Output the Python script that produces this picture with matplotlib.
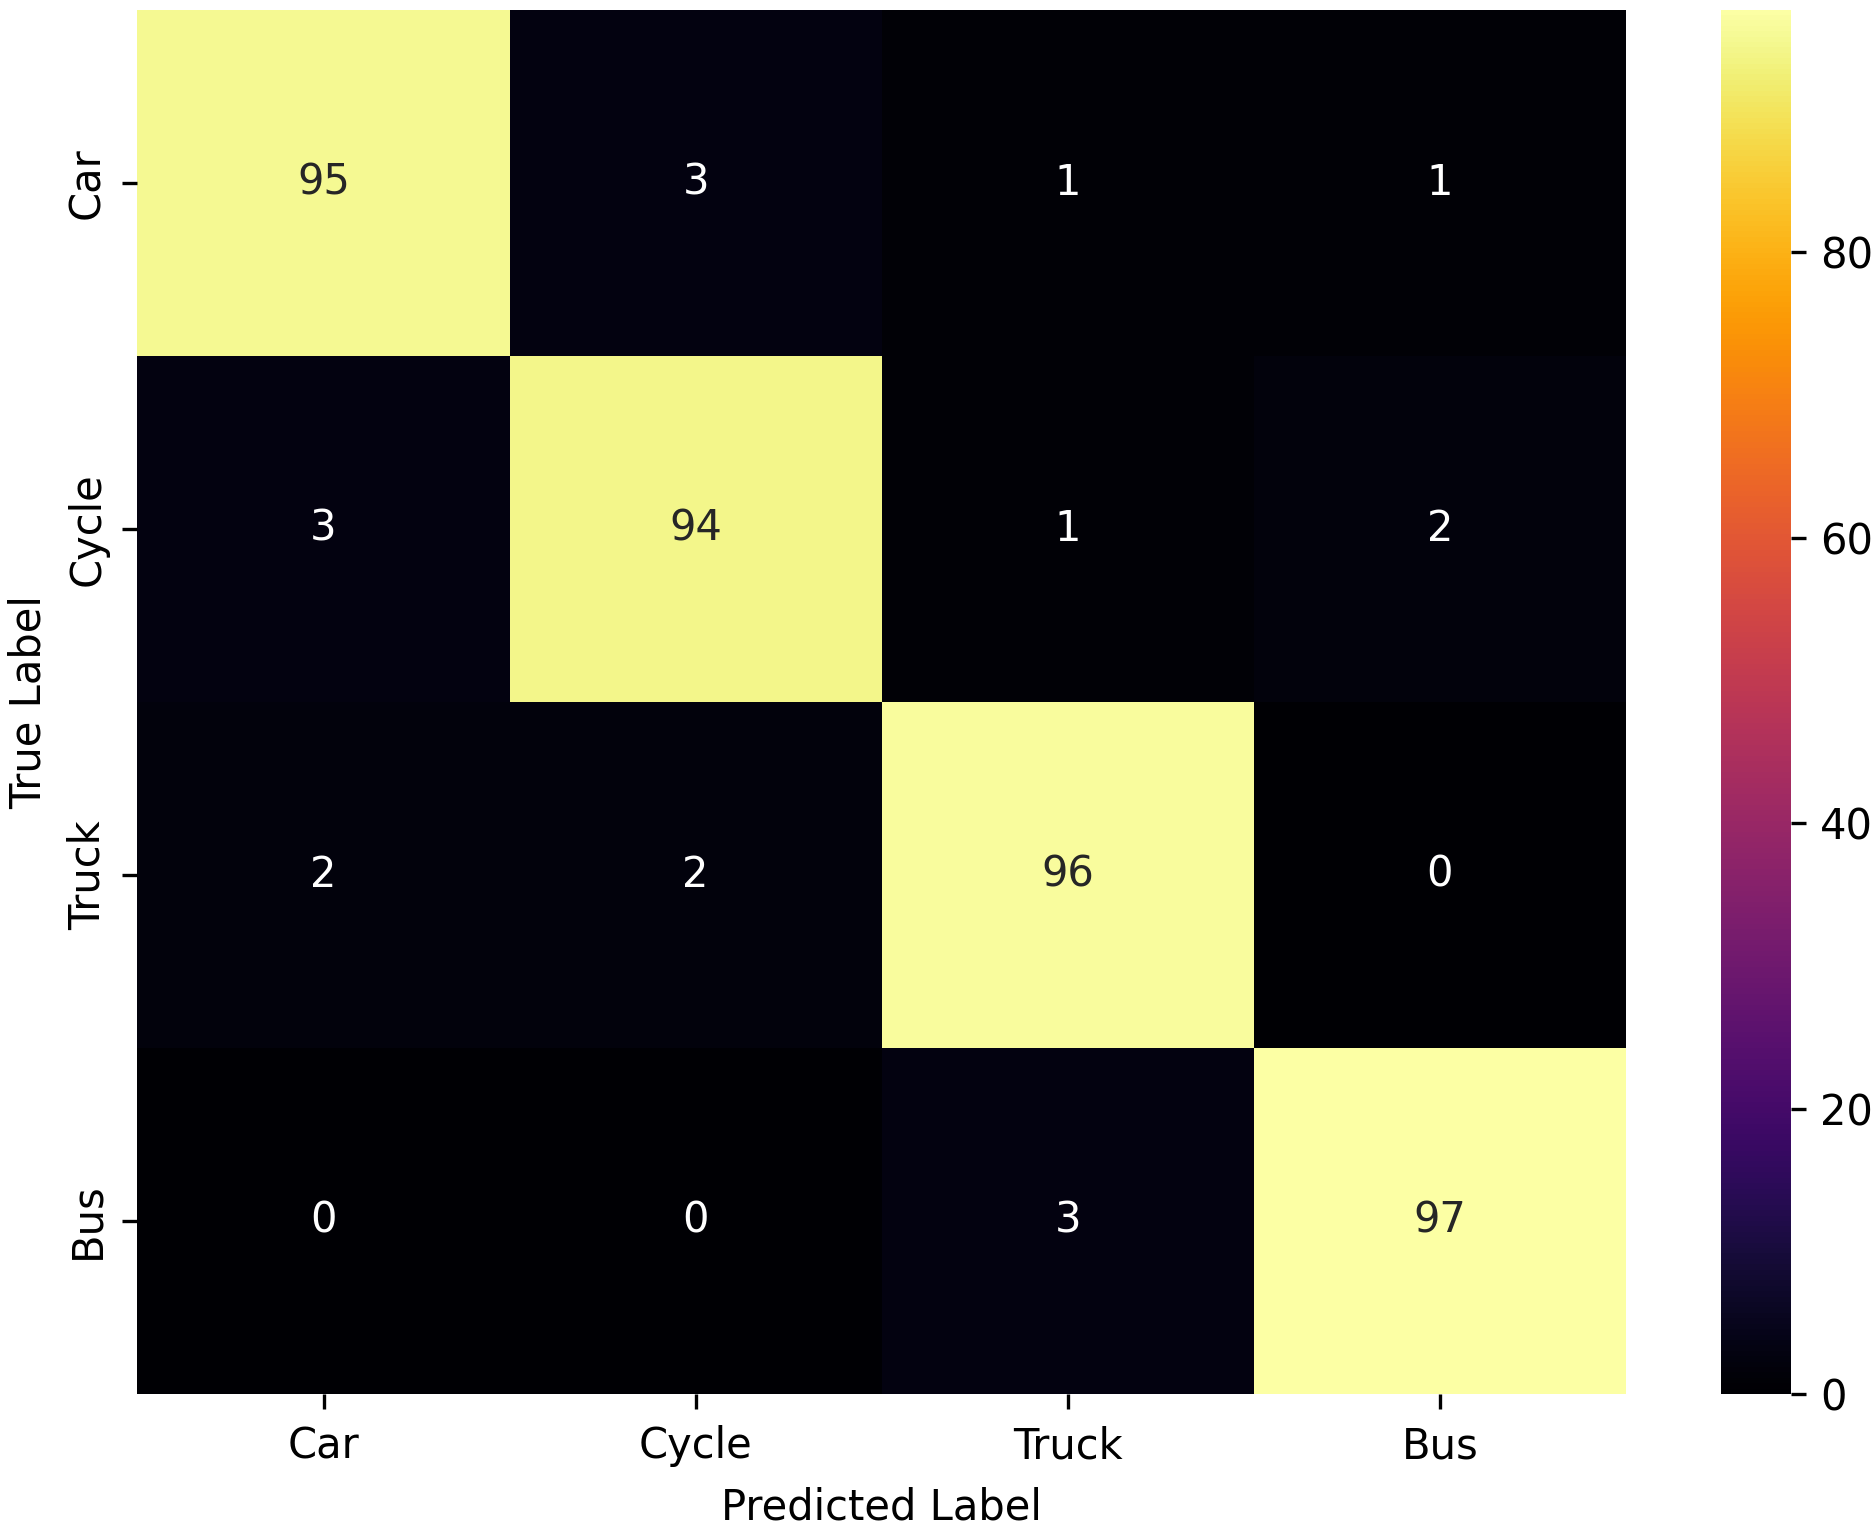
import numpy as np
import matplotlib
matplotlib.use("Agg")
import matplotlib.pyplot as plt
import seaborn as sns

labels = ["Car", "Cycle", "Truck", "Bus"]
cm = np.array([
    [95, 3, 1, 1],
    [3, 94, 1, 2],
    [2, 2, 96, 0],
    [0, 0, 3, 97],
])

fig = plt.figure(figsize=(6.25, 5.08), dpi=300)
ax = fig.add_axes([0.0733, 0.0853, 0.7939, 0.9084])
cax = fig.add_axes([0.9179, 0.0853, 0.0373, 0.9084])

sns.heatmap(cm, annot=True, fmt="d", cmap="inferno", vmin=0, vmax=97,
            xticklabels=labels, yticklabels=labels, ax=ax, cbar_ax=cax,
            annot_kws={"size": 10})
ax.set_xlabel("Predicted Label", fontsize=10, labelpad=4.5)
ax.set_ylabel("True Label", fontsize=10, labelpad=4)
ax.tick_params(axis="x", labelsize=10, pad=4)
ax.tick_params(axis="y", labelsize=10)
cax.tick_params(labelsize=10)
cax.set_yticks([0, 20, 40, 60, 80])

fig.savefig("out.png", dpi=300)
